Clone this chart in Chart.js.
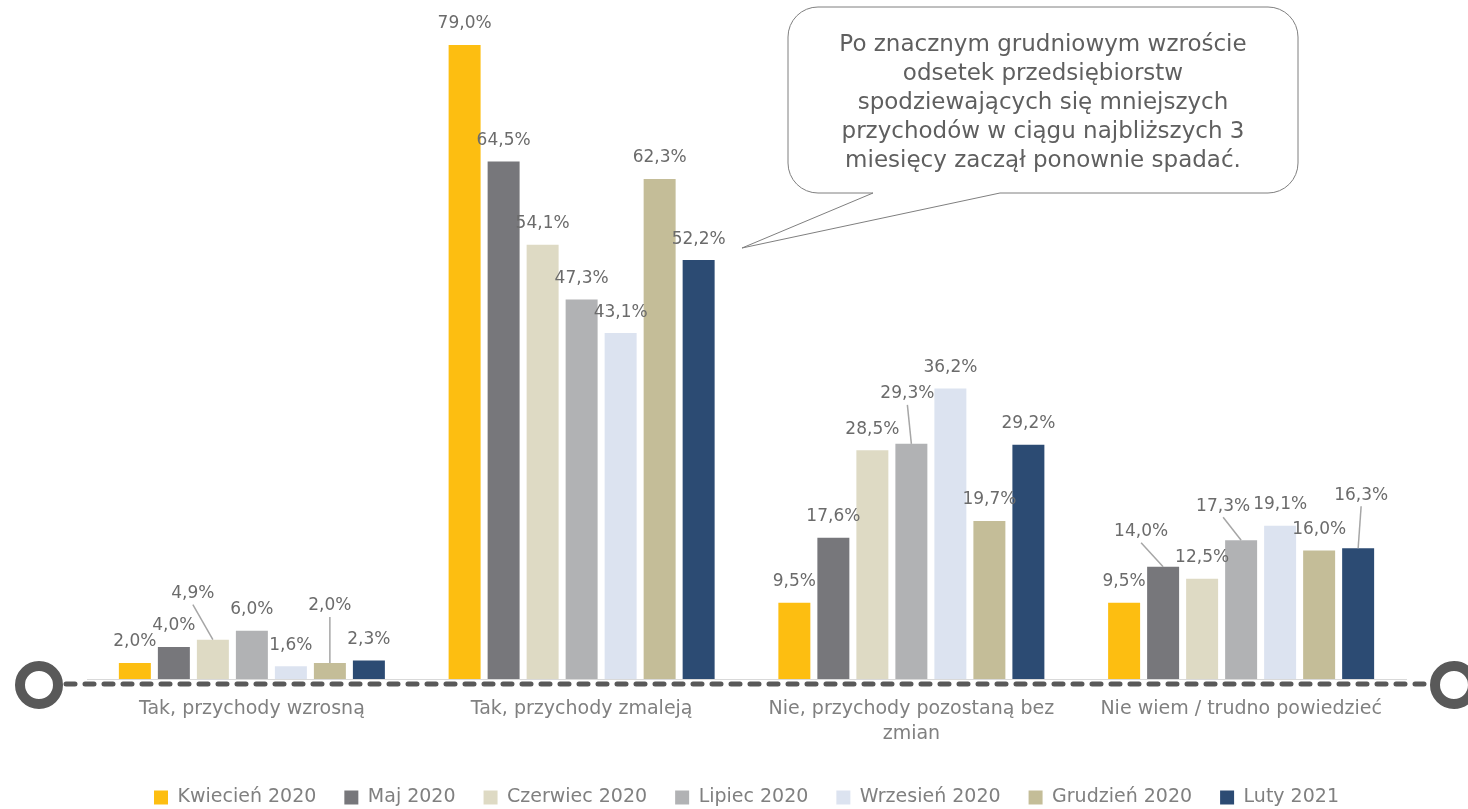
<!DOCTYPE html>
<html>
<head>
<meta charset="utf-8">
<script src="https://cdn.jsdelivr.net/npm/chart.js@4"></script>
<style>
html, body { margin: 0; padding: 0; background: #fff; overflow: hidden; }
#wrap { width: 1468px; height: 817px; position: relative; }
</style>
</head>
<body>
<div id="wrap"><canvas id="myChart"></canvas></div>
<script>
const categories = ["Tak, przychody wzrosną", "Tak, przychody zmaleją", ["Nie, przychody pozostaną bez", "zmian"], "Nie wiem / trudno powiedzieć"];
const seriesNames = ["Kwiecień 2020", "Maj 2020", "Czerwiec 2020", "Lipiec 2020", "Wrzesień 2020", "Grudzień 2020", "Luty 2021"];
const seriesColors = ["#FDBE11", "#77777B", "#DEDAC4", "#B1B2B4", "#DCE3F0", "#C4BD98", "#2C4B73"];

const kwiecien2020 = [2.0, 79.0, 9.5, 9.5];
const maj2020 = [4.0, 64.5, 17.6, 14.0];
const czerwiec2020 = [4.9, 54.1, 28.5, 12.5];
const lipiec2020 = [6.0, 47.3, 29.3, 17.3];
const wrzesien2020 = [1.6, 43.1, 36.2, 19.1];
const grudzien2020 = [2.0, 62.3, 19.7, 16.0];
const luty2021 = [2.3, 52.2, 29.2, 16.3];

const calloutLines = [
    "Po znacznym grudniowym wzroście",
    "odsetek przedsiębiorstw",
    "spodziewających się mniejszych",
    "przychodów w ciągu najbliższych 3",
    "miesięcy zaczął ponownie spadać."
];

const FONT = "'DejaVu Sans', sans-serif";

// labels moved off their bar get a leader line: "dataset-category": [dx, dy]
const labelNudge = { "2-0": [-20, -25], "5-0": [0, -36], "3-2": [-4, -29], "1-3": [-22, -14], "3-3": [-18, -13], "6-3": [3, -32] };

const barLabels = {
    id: "barLabels",
    afterDatasetsDraw(chart) {
        const c = chart.ctx;
        c.save();
        c.font = "17px " + FONT;
        c.textAlign = "center";
        c.textBaseline = "middle";
        chart.data.datasets.forEach((ds, i) => {
            chart.getDatasetMeta(i).data.forEach((bar, j) => {
                const nudge = labelNudge[i + "-" + j];
                const n = nudge || [0, 0];
                const x = bar.x + n[0];
                const y = bar.y - 21 + n[1];
                if (nudge) {
                    c.strokeStyle = "#A6A6A6";
                    c.lineWidth = 1.5;
                    c.beginPath();
                    c.moveTo(x, y + 11);
                    c.lineTo(bar.x, bar.y);
                    c.stroke();
                }
                c.fillStyle = "#6B6B6B";
                c.fillText(ds.data[j].toFixed(1).replace(".", ",") + "%", x, y);
            });
        });
        c.restore();
    }
};

const axisDeco = {
    id: "axisDeco",
    afterDraw(chart) {
        const c = chart.ctx;
        const y = chart.scales.y.getPixelForValue(0) + 5;
        c.save();
        c.strokeStyle = "#595959";
        c.lineWidth = 5;
        c.lineCap = "round";
        c.setLineDash([9, 10]);
        c.beginPath();
        c.moveTo(66, y);
        c.lineTo(1428, y);
        c.stroke();
        c.setLineDash([]);
        c.lineWidth = 10;
        [39, 1454].forEach(cx => {
            c.beginPath();
            c.arc(cx, y + 1, 19, 0, Math.PI * 2);
            c.stroke();
        });
        c.restore();
    }
};

const callout = {
    id: "callout",
    afterDraw(chart) {
        const c = chart.ctx;
        const L = 788, T = 7, R = 1298, B = 193, r = 30;
        const tailA = 873, tailB = 1000, tipX = 742, tipY = 248;
        c.save();
        c.beginPath();
        c.moveTo(L + r, T);
        c.lineTo(R - r, T);
        c.arcTo(R, T, R, T + r, r);
        c.lineTo(R, B - r);
        c.arcTo(R, B, R - r, B, r);
        c.lineTo(tailB, B);
        c.lineTo(tipX, tipY);
        c.lineTo(tailA, B);
        c.lineTo(L + r, B);
        c.arcTo(L, B, L, B - r, r);
        c.lineTo(L, T + r);
        c.arcTo(L, T, L + r, T, r);
        c.closePath();
        c.fillStyle = "#ffffff";
        c.fill();
        c.strokeStyle = "#7F7F7F";
        c.lineWidth = 1;
        c.stroke();
        c.fillStyle = "#5F5F5F";
        c.font = "23px " + FONT;
        c.textAlign = "center";
        c.textBaseline = "alphabetic";
        calloutLines.forEach((line, k) => c.fillText(line, (L + R) / 2, 51 + k * 29));
        c.restore();
    }
};

const seriesData = [kwiecien2020, maj2020, czerwiec2020, lipiec2020, wrzesien2020, grudzien2020, luty2021];

new Chart(document.getElementById("myChart"), {
    type: "bar",
    data: {
        labels: categories,
        datasets: seriesNames.map((name, i) => ({
            label: name,
            data: seriesData[i],
            backgroundColor: seriesColors[i],
            categoryPercentage: 0.828,
            barPercentage: 0.82
        }))
    },
    options: {
        responsive: true,
        maintainAspectRatio: false,
        animation: false,
        layout: { padding: { left: 87, right: 62, top: 37, bottom: 0 } },
        scales: {
            y: { display: false, min: 0, max: 80 },
            x: {
                grid: { display: false, drawTicks: false },
                border: { display: true, color: "#D9D9D9", width: 1 },
                ticks: { color: "#808080", font: { family: FONT, size: 19, lineHeight: 1.35 }, padding: 17, maxRotation: 0, autoSkip: false },
                afterFit(scale) { scale.height = 81; }
            }
        },
        plugins: {
            tooltip: { enabled: false },
            legend: {
                position: "bottom",
                labels: { boxWidth: 14, boxHeight: 14, padding: 28, color: "#808080", font: { family: FONT, size: 19 } }
            }
        }
    },
    plugins: [barLabels, axisDeco, callout]
});
</script>
</body>
</html>
